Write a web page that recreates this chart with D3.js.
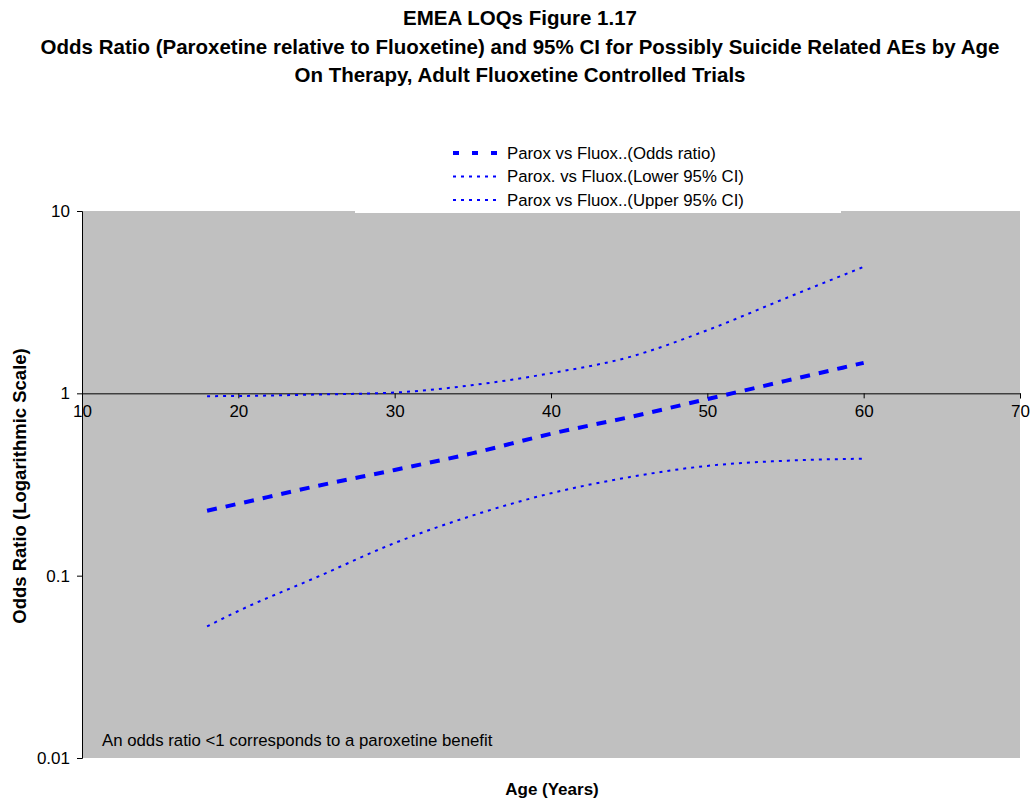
<!DOCTYPE html>
<html>
<head>
<meta charset="utf-8">
<script src="https://cdn.jsdelivr.net/npm/d3@7"></script>
<style>
  body { margin: 0; background: #fff; }
  text { font-family: Arial, "Liberation Sans", sans-serif; }
</style>
</head>
<body>
<div id="chart"></div>
<script>
// data
const ages = [18, 20, 25, 30, 35, 40, 45, 50, 55, 60];
const oddsRatio = [0.227, 0.248, 0.31, 0.38, 0.47, 0.60, 0.74, 0.93, 1.17, 1.47];
const lowerCI = [0.0527, 0.064, 0.098, 0.151, 0.214, 0.283, 0.347, 0.40, 0.427, 0.438];
const upperCI = [0.965, 0.967, 0.985, 1.01, 1.11, 1.29, 1.58, 2.22, 3.32, 4.94];

const xTicks = [10, 20, 30, 40, 50, 60, 70];
const yTicks = [0.01, 0.1, 1, 10];
const yTickLabels = ["0.01", "0.1", "1", "10"];

const titleLines = [
  "EMEA LOQs Figure 1.17",
  "Odds Ratio (Paroxetine relative to Fluoxetine) and 95% CI for Possibly Suicide Related AEs by Age",
  "On Therapy, Adult Fluoxetine Controlled Trials"
];
const seriesNames = [
  "Parox vs Fluox..(Odds ratio)",
  "Parox. vs Fluox.(Lower 95% CI)",
  "Parox vs Fluox..(Upper 95% CI)"
];

const W = 1031, H = 800;
const plot = { left: 82, right: 1020, top: 211, bottom: 758 };

const svg = d3.select("#chart")
  .append("svg")
    .attr("width", W)
    .attr("height", H);

// scales
const x = d3.scaleLinear().domain([10, 70]).range([plot.left, plot.right]);
const y = d3.scaleLog().domain([0.01, 10]).range([plot.bottom, plot.top]);

// plot area background
svg.append("rect")
  .attr("x", plot.left)
  .attr("y", plot.top)
  .attr("width", plot.right - plot.left)
  .attr("height", plot.bottom - plot.top)
  .attr("fill", "#c0c0c0");

// title
svg.append("g")
  .selectAll("text")
  .data(titleLines)
  .enter()
  .append("text")
    .attr("x", 520)
    .attr("y", (d, i) => 25 + i * 28.5)
    .attr("text-anchor", "middle")
    .attr("font-size", "20.5px")
    .attr("font-weight", "bold")
    .text(d => d);

// y axis
const yAxis = svg.append("g")
  .attr("transform", `translate(${plot.left},0)`)
  .call(d3.axisLeft(y)
    .tickValues(yTicks)
    .tickFormat((d, i) => yTickLabels[i])
    .tickSize(5)
    .tickPadding(7));
yAxis.selectAll("text").attr("font-size", "17px").attr("fill", "#000");
yAxis.select(".domain").attr("stroke", "#000");

// x axis crosses at odds ratio 1
const xAxis = svg.append("g")
  .attr("transform", `translate(0,${y(1)})`)
  .call(d3.axisBottom(x)
    .tickValues(xTicks)
    .tickFormat(d3.format("d"))
    .tickSize(5)
    .tickPadding(7));
xAxis.selectAll("text").attr("font-size", "17px").attr("fill", "#000");
xAxis.select(".domain").attr("stroke", "#000");

// lines
const line = d3.line()
  .x(d => x(d[0]))
  .y(d => y(d[1]))
  .curve(d3.curveMonotoneX);

const series = [
  { name: seriesNames[0], values: oddsRatio, width: 4, dash: "10,9", legendDash: "6,13" },
  { name: seriesNames[1], values: lowerCI, width: 2, dash: "3,5", legendDash: "3,5" },
  { name: seriesNames[2], values: upperCI, width: 2, dash: "3,5", legendDash: "3,5" }
];

svg.append("g")
  .selectAll("path")
  .data(series)
  .enter()
  .append("path")
    .attr("d", s => line(ages.map((a, i) => [a, s.values[i]])))
    .attr("fill", "none")
    .attr("stroke", "#0000ff")
    .attr("stroke-width", s => s.width)
    .attr("stroke-dasharray", s => s.dash);

// note inside plot
svg.append("text")
  .attr("x", 102)
  .attr("y", 746)
  .attr("font-size", "16.8px")
  .text("An odds ratio <1 corresponds to a paroxetine benefit");

// axis titles
svg.append("text")
  .attr("x", 552)
  .attr("y", 795)
  .attr("text-anchor", "middle")
  .attr("font-size", "17px")
  .attr("font-weight", "bold")
  .text("Age (Years)");

svg.append("text")
  .attr("transform", "translate(26,486) rotate(-90)")
  .attr("text-anchor", "middle")
  .attr("font-size", "18.5px")
  .attr("font-weight", "bold")
  .text("Odds Ratio (Logarithmic Scale)");

// legend
const legend = svg.append("g");
legend.append("rect")
  .attr("x", 355)
  .attr("y", 140)
  .attr("width", 486)
  .attr("height", 73)
  .attr("fill", "#fff");

const rows = legend.selectAll("g.row")
  .data(series)
  .enter()
  .append("g")
    .attr("class", "row")
    .attr("transform", (d, i) => `translate(0,${153 + i * 23.5})`);

rows.append("line")
  .attr("x1", 453)
  .attr("x2", 498)
  .attr("stroke", "#0000ff")
  .attr("stroke-width", d => d.width)
  .attr("stroke-dasharray", d => d.legendDash);

rows.append("text")
  .attr("x", 507)
  .attr("dy", "0.35em")
  .attr("font-size", "16.8px")
  .text(d => d.name);
</script>
</body>
</html>
